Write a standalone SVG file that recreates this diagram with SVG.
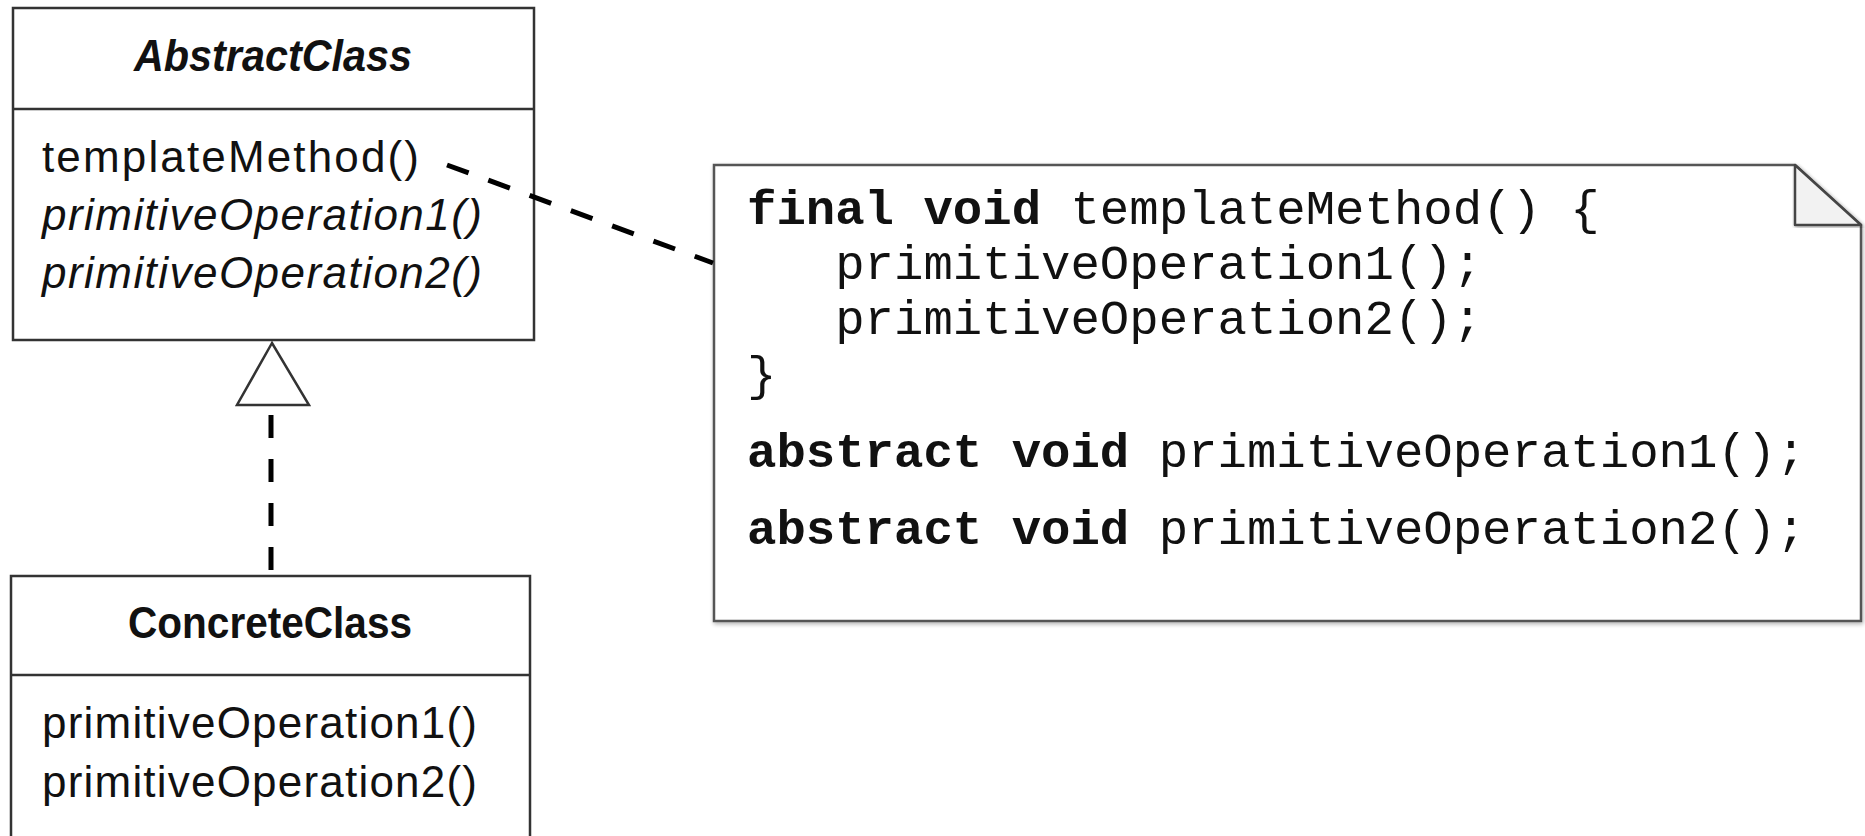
<svg xmlns="http://www.w3.org/2000/svg" width="1865" height="836" viewBox="0 0 1865 836">
<style>
.box{fill:#fff;stroke:#333;stroke-width:2.5}
.div{stroke:#333;stroke-width:2.5}
.uml{font-family:"Liberation Sans",Arial,sans-serif;font-size:44px;fill:#111}
.title{font-weight:bold;text-anchor:middle}
.it{font-style:italic}
.code{font-family:"Liberation Mono","Courier New",monospace;font-size:49px;fill:#111;white-space:pre}
.kw{font-weight:bold}
.dash{fill:none;stroke:#000;stroke-width:5;stroke-dasharray:23 21}
.note{fill:#fff;stroke:#555;stroke-width:2.5}
</style>
<defs>
<filter id="sh" x="-5%" y="-5%" width="110%" height="110%">
<feGaussianBlur in="SourceAlpha" stdDeviation="2"/>
<feOffset dx="1" dy="2"/>
<feComponentTransfer><feFuncA type="linear" slope="0.3"/></feComponentTransfer>
<feMerge><feMergeNode/><feMergeNode in="SourceGraphic"/></feMerge>
</filter>
</defs>
<g id="AbstractClass">
<rect class="box" x="13" y="8" width="521" height="332"/>
<line class="div" x1="13" y1="109" x2="534" y2="109"/>
<text class="uml title it" x="273" y="71" textLength="278" lengthAdjust="spacingAndGlyphs">AbstractClass</text>
<text class="uml" x="42" y="172" textLength="377">templateMethod()</text>
<text class="uml it" x="42" y="230" textLength="440">primitiveOperation1()</text>
<text class="uml it" x="42" y="288" textLength="440">primitiveOperation2()</text>
</g>
<g id="ConcreteClass">
<rect class="box" x="11" y="576" width="519" height="280"/>
<line class="div" x1="11" y1="675" x2="530" y2="675"/>
<text class="uml title" x="270" y="638" textLength="284" lengthAdjust="spacingAndGlyphs">ConcreteClass</text>
<text class="uml" x="42" y="738" textLength="435">primitiveOperation1()</text>
<text class="uml" x="42" y="797" textLength="435">primitiveOperation2()</text>
</g>
<g id="Note">
<path class="note" filter="url(#sh)" d="M714,165 H1795 L1861,225 V621 H714 Z"/>
<path d="M1795,165 V225 H1861 Z" fill="#f2f2f2" stroke="#444" stroke-width="2.5" stroke-linejoin="round" filter="url(#sh)"/>
<text class="code" x="747" y="224"><tspan class="kw">final void</tspan> templateMethod() {</text>
<text class="code" x="747" y="279">   primitiveOperation1();</text>
<text class="code" x="747" y="334">   primitiveOperation2();</text>
<text class="code" x="747" y="390">}</text>
<text class="code" x="747" y="467"><tspan class="kw">abstract void</tspan> primitiveOperation1();</text>
<text class="code" x="747" y="544"><tspan class="kw">abstract void</tspan> primitiveOperation2();</text>
</g>
<g id="connectors">
<line class="dash" x1="447" y1="165" x2="713" y2="263"/>
<line class="dash" x1="271" y1="415" x2="271" y2="574"/>
<polygon points="272,343 237,405 309,405" fill="#fff" stroke="#333" stroke-width="2.5"/>
</g>
</svg>
